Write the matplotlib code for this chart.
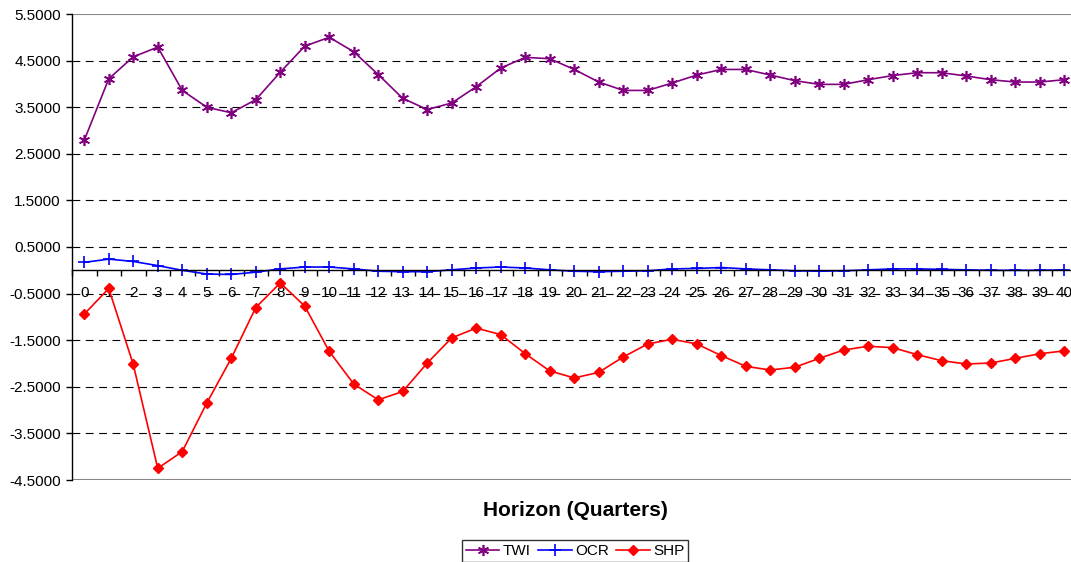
import numpy as np
import matplotlib
matplotlib.use("Agg")
import matplotlib.pyplot as plt
from matplotlib.ticker import FixedLocator, FormatStrFormatter

plt.rcParams["font.family"] = ["Liberation Sans", "DejaVu Sans"]
plt.rcParams["axes.unicode_minus"] = False

# 冲击响应数据（按季度）
horizon = list(range(41))
twi = [2.79, 4.11, 4.58, 4.79, 3.86, 3.50, 3.38, 3.66, 4.25, 4.81, 5.00,
       4.69, 4.20, 3.69, 3.45, 3.59, 3.94, 4.34, 4.57, 4.54, 4.31,
       4.04, 3.86, 3.86, 4.02, 4.19, 4.31, 4.31, 4.19, 4.07, 3.99,
       3.99, 4.09, 4.18, 4.24, 4.24, 4.17, 4.09, 4.04, 4.04, 4.09]
ocr = [0.17, 0.24, 0.19, 0.10, 0.00, -0.08, -0.09, -0.04, 0.03, 0.07, 0.07,
       0.03, -0.02, -0.03, -0.03, 0.01, 0.05, 0.07, 0.05, 0.01, -0.02,
       -0.03, -0.02, -0.01, 0.03, 0.04, 0.06, 0.03, 0.01, -0.01, -0.02,
       -0.01, 0.01, 0.03, 0.03, 0.02, 0.01, 0.00, 0.00, 0.00, 0.01]
shp = [-0.94, -0.39, -2.02, -4.25, -3.89, -2.85, -1.89, -0.80, -0.27, -0.77, -1.74,
       -2.44, -2.78, -2.60, -1.99, -1.45, -1.24, -1.38, -1.79, -2.16, -2.31,
       -2.19, -1.86, -1.58, -1.48, -1.58, -1.83, -2.06, -2.14, -2.08, -1.89,
       -1.71, -1.63, -1.66, -1.81, -1.94, -2.01, -1.99, -1.89, -1.79, -1.73]
y_ticks = [-4.5, -3.5, -2.5, -1.5, -0.5, 0.5, 1.5, 2.5, 3.5, 4.5, 5.5]

W, H = 1071, 562
fig = plt.figure(figsize=(W / 100, H / 100), dpi=100)
ax = fig.add_axes([72 / W, 1 - 480 / H, (1076.5 - 72) / W, (480 - 14) / H])

l1, = ax.plot(horizon, twi, color="#800080", lw=1.2, marker=(6, 2, 0), ms=8,
              mew=1.2, label="TWI")
l2, = ax.plot(horizon, ocr, color="#0000FF", lw=1.2, marker="+", ms=9,
              mew=1.2, label="OCR")
l3, = ax.plot(horizon, shp, color="#FF0000", lw=1.2, marker="D", ms=5.5,
              label="SHP")

ax.set_xlim(-0.5, 40.5)
ax.set_ylim(-4.5, 5.5)

# 网格线
for y in y_ticks[1:-1]:
    ax.axhline(y, color="black", lw=0.8, ls=(0, (7, 5)), zorder=0)
ax.axhline(5.5, color="#888888", lw=1.5, zorder=0)
ax.axhline(-4.5, color="#888888", lw=1.5, zorder=0)

for s in ["top", "right"]:
    ax.spines[s].set_visible(False)
ax.spines["left"].set_linewidth(1.0)
ax.spines["bottom"].set_position(("data", 0))
ax.spines["bottom"].set_linewidth(1.0)

ax.yaxis.set_major_locator(FixedLocator(y_ticks))
ax.yaxis.set_major_formatter(FormatStrFormatter("%.4f"))
ax.tick_params(axis="y", length=4, width=1, pad=4, labelsize=11)

ax.set_xticks(horizon)
ax.set_xticklabels([str(h) for h in horizon])
ax.set_xticks(np.arange(-0.5, 41, 1), minor=True)
ax.tick_params(axis="x", which="major", length=0, pad=11, labelsize=11)
ax.tick_params(axis="x", which="minor", length=4, width=1, direction="out")

fig.text(575 / W, 1 - 510 / H, "Horizon (Quarters)", ha="center", va="center",
         fontsize=15, fontweight="bold")

leg = fig.legend(handles=[l1, l2, l3], loc="center", ncol=3,
                 bbox_to_anchor=(575 / W, 1 - 551 / H), frameon=True,
                 fancybox=False, edgecolor="black", fontsize=11,
                 handlelength=2.2, columnspacing=0.5, handletextpad=0.2,
                 borderpad=0.25, borderaxespad=0)
leg.get_frame().set_linewidth(1.0)

fig.savefig("out.png", dpi=100, facecolor="white")
